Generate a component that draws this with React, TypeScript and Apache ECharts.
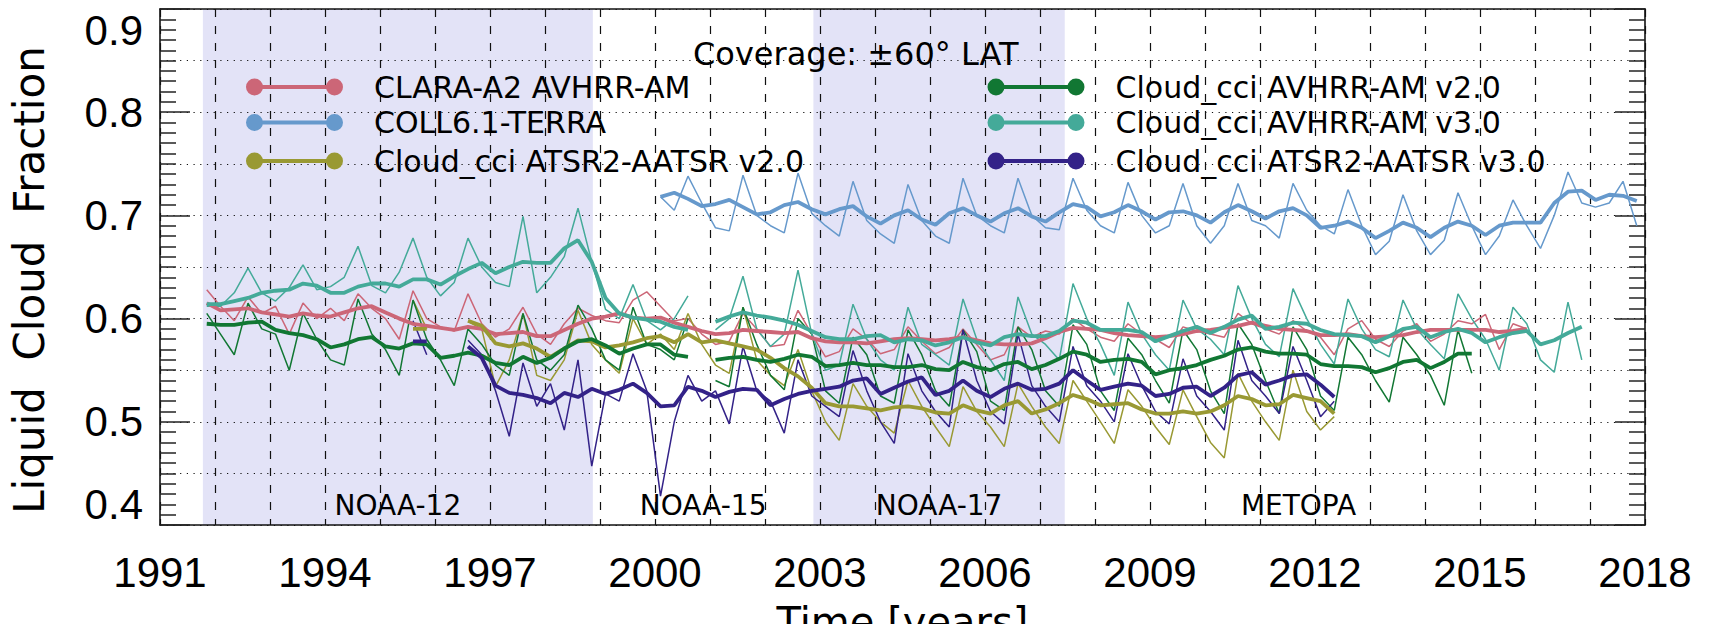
import React, { useEffect, useRef } from "react";
import * as echarts from "echarts";

// ---------- axis constants ----------
const BASE_YEAR = 1991;
const END_YEAR = 2018;
const X_TICK_STEP = 3;
const Y_MIN = 0.4;
const Y_MAX = 0.9;
const Y_MAJOR = 0.1;
const Y_GRID = 0.05;
const STEP = 0.25; // quarterly samples (years)

// ---------- data ----------
// CLARA-A2 AVHRR-AM : samples from 1991.85 every 0.25 yr
const claraStart = 1991.85;
const claraThin = [
  0.628,
  0.612, 0.598, 0.621, 0.605,
  0.612, 0.585, 0.615, 0.600,
  0.610, 0.598, 0.624, 0.610,
  0.600, 0.580, 0.627, 0.600,
  0.592, 0.588, 0.624, 0.595,
  0.582, 0.590, 0.611, 0.585,
  0.575, 0.595, 0.610, 0.603,
  0.598, 0.596, 0.618, 0.626,
  0.612, 0.598, 0.600, 0.585,
  0.575, 0.578, 0.605, 0.590,
  0.573, 0.575, 0.608, 0.585,
  0.563, 0.568, 0.590, 0.580,
  0.566, 0.570, 0.592, 0.578,
  0.566, 0.572, 0.590, 0.575,
  0.560, 0.565, 0.592, 0.582,
  0.588, 0.585, 0.600, 0.590,
  0.582, 0.578, 0.595, 0.585,
  0.580, 0.572, 0.592, 0.588,
  0.585, 0.582, 0.605, 0.595,
  0.590, 0.585, 0.598, 0.588,
  0.582, 0.565, 0.590, 0.598,
  0.580, 0.573, 0.588, 0.595,
  0.578, 0.585, 0.598, 0.595,
  0.604, 0.570, 0.595, 0.590,
];
const claraThick = [
  0.615,
  0.608, 0.609, 0.610, 0.606,
  0.604, 0.602, 0.605, 0.603,
  0.602, 0.606, 0.610, 0.612,
  0.606, 0.600, 0.595, 0.593,
  0.591, 0.589, 0.592, 0.590,
  0.585, 0.586, 0.587, 0.583,
  0.583, 0.589, 0.595, 0.600,
  0.602, 0.605, 0.601, 0.600,
  0.601, 0.596, 0.592, 0.588,
  0.585, 0.586, 0.589, 0.588,
  0.587, 0.586, 0.587, 0.581,
  0.578, 0.577, 0.577, 0.576,
  0.578, 0.580, 0.581, 0.580,
  0.579, 0.580, 0.582, 0.579,
  0.576, 0.575, 0.575, 0.576,
  0.581, 0.587, 0.591, 0.590,
  0.589, 0.586, 0.584, 0.583,
  0.582, 0.583, 0.585, 0.588,
  0.589, 0.591, 0.593, 0.596,
  0.593, 0.590, 0.589, 0.588,
  0.584, 0.584, 0.585, 0.583,
  0.582, 0.583, 0.584, 0.587,
  0.589, 0.589, 0.589, 0.589,
  0.589, 0.587, 0.588, 0.590,
];

// COLL6.1-TERRA : samples from 2000.1
const collStart = 2000.1;
const collThin = [
  0.718, 0.705, 0.738, 0.712,
  0.688, 0.685, 0.739, 0.700,
  0.690, 0.683, 0.741, 0.702,
  0.690, 0.680, 0.733, 0.695,
  0.682, 0.673, 0.730, 0.695,
  0.680, 0.673, 0.736, 0.700,
  0.690, 0.683, 0.736, 0.700,
  0.688, 0.686, 0.736, 0.705,
  0.690, 0.683, 0.732, 0.700,
  0.683, 0.690, 0.731, 0.690,
  0.673, 0.690, 0.731, 0.695,
  0.690, 0.678, 0.731, 0.705,
  0.690, 0.682, 0.725, 0.690,
  0.662, 0.675, 0.720, 0.685,
  0.662, 0.676, 0.722, 0.690,
  0.662, 0.680, 0.715, 0.690,
  0.668, 0.700, 0.742, 0.712,
  0.708, 0.712, 0.733, 0.690,
];
const collThick = [
  0.718, 0.722, 0.716, 0.709,
  0.711, 0.715, 0.708, 0.701,
  0.703, 0.710, 0.713, 0.706,
  0.701, 0.706, 0.709, 0.699,
  0.692, 0.700, 0.705, 0.696,
  0.691, 0.702, 0.707, 0.700,
  0.694, 0.702, 0.707, 0.699,
  0.694, 0.703, 0.711, 0.708,
  0.699, 0.703, 0.710, 0.704,
  0.696, 0.703, 0.704, 0.700,
  0.693, 0.703, 0.710, 0.704,
  0.697, 0.704, 0.707, 0.700,
  0.688, 0.690, 0.694, 0.688,
  0.678, 0.685, 0.693, 0.688,
  0.679, 0.688, 0.694, 0.690,
  0.681, 0.690, 0.693, 0.693,
  0.693, 0.712, 0.723, 0.724,
  0.715, 0.720, 0.719, 0.714,
];

// Cloud_cci AVHRR-AM v3.0 : samples from 1991.85
const avhrr3Start = 1991.85;
const avhrr3Thin = [
  0.612,
  0.612, 0.625, 0.649, 0.625,
  0.617, 0.630, 0.652, 0.628,
  0.631, 0.640, 0.670, 0.632,
  0.625, 0.645, 0.678, 0.640,
  0.622, 0.635, 0.678, 0.650,
  0.635, 0.631, 0.699, 0.625,
  0.640, 0.660, 0.707, 0.655,
  0.609, 0.600, 0.633, 0.598,
  0.589, 0.600, 0.622, null,
  0.589, 0.600, 0.641, 0.590,
  0.573, 0.585, 0.647, 0.585,
  0.550, 0.555, 0.614, 0.580,
  0.560, 0.550, 0.611, 0.575,
  0.565, 0.555, 0.619, 0.580,
  0.560, 0.540, 0.621, 0.585,
  0.575, 0.560, 0.634, 0.600,
  0.575, 0.545, 0.616, 0.585,
  0.565, 0.550, 0.618, 0.590,
  0.580, 0.565, 0.632, 0.600,
  0.575, 0.563, 0.629, 0.600,
  0.575, 0.556, 0.619, 0.590,
  0.570, 0.563, 0.618, 0.590,
  0.575, 0.561, 0.624, 0.600,
  0.580, 0.550, 0.611, 0.595,
  0.560, 0.548, 0.616, 0.560,
];
const avhrr3Thick = [
  0.614,
  0.614, 0.617, 0.620, 0.625,
  0.627, 0.628, 0.634, 0.632,
  0.625, 0.625, 0.631, 0.634,
  0.634, 0.631, 0.638, 0.638,
  0.633, 0.641, 0.648, 0.654,
  0.644, 0.650, 0.655, 0.654,
  0.654, 0.668, 0.676, 0.655,
  0.620, 0.605, 0.601, 0.599,
  0.597, 0.592, 0.589, null,
  0.597, 0.602, 0.606, 0.603,
  0.601, 0.598, 0.594, 0.588,
  0.582, 0.580, 0.580, 0.583,
  0.584, 0.577, 0.580, 0.579,
  0.574, 0.577, 0.582, 0.577,
  0.574, 0.582, 0.585, 0.583,
  0.583, 0.588, 0.598, 0.596,
  0.589, 0.589, 0.589, 0.587,
  0.578, 0.583, 0.588, 0.592,
  0.586, 0.592, 0.599, 0.603,
  0.590, 0.592, 0.596, 0.595,
  0.589, 0.585, 0.584, 0.583,
  0.577, 0.583, 0.590, 0.592,
  0.582, 0.587, 0.590, 0.586,
  0.577, 0.582, 0.586, 0.588,
  0.575, 0.579, 0.586, 0.592,
];

// Cloud_cci AVHRR-AM v2.0 : samples from 1991.85
const avhrr2Start = 1991.85;
const avhrr2Thin = [
  0.605,
  0.585, 0.565, 0.615, 0.590,
  0.585, 0.550, 0.605, 0.580,
  0.560, 0.555, 0.619, 0.585,
  0.570, 0.545, 0.618, 0.580,
  0.560, 0.535, 0.590, 0.575,
  0.555, 0.545, 0.605, 0.560,
  0.550, 0.565, 0.613, 0.590,
  0.560, 0.550, 0.611, 0.575,
  0.570, 0.560, 0.600, null,
  0.540, 0.534, 0.611, 0.575,
  0.545, 0.531, 0.600, 0.585,
  0.530, 0.518, 0.582, 0.565,
  0.525, 0.518, 0.589, 0.565,
  0.530, 0.515, 0.589, 0.568,
  0.520, 0.511, 0.592, 0.570,
  0.530, 0.515, 0.594, 0.575,
  0.530, 0.511, 0.581, 0.565,
  0.540, 0.518, 0.589, 0.570,
  0.530, 0.508, 0.595, 0.575,
  0.540, 0.508, 0.592, 0.570,
  0.525, 0.511, 0.582, 0.565,
  0.540, 0.519, 0.582, 0.565,
  0.545, 0.516, 0.589, 0.547,
];
const avhrr2Thick = [
  0.595,
  0.594, 0.594, 0.596, 0.597,
  0.589, 0.586, 0.584, 0.580,
  0.572, 0.575, 0.580, 0.582,
  0.573, 0.571, 0.576, 0.575,
  0.562, 0.564, 0.567, 0.564,
  0.557, 0.555, 0.563, 0.557,
  0.562, 0.571, 0.578, 0.580,
  0.574, 0.566, 0.571, 0.575,
  0.575, 0.565, 0.563, null,
  0.560, 0.562, 0.563, 0.560,
  0.558, 0.561, 0.565, 0.563,
  0.554, 0.555, 0.557, 0.555,
  0.555, 0.553, 0.553, 0.555,
  0.551, 0.550, 0.558, 0.553,
  0.550, 0.556, 0.558, 0.551,
  0.555, 0.561, 0.568, 0.565,
  0.558, 0.560, 0.561, 0.558,
  0.546, 0.550, 0.552, 0.555,
  0.560, 0.564, 0.570, 0.572,
  0.568, 0.566, 0.566, 0.565,
  0.556, 0.554, 0.554, 0.553,
  0.548, 0.552, 0.558, 0.560,
  0.552, 0.558, 0.566, 0.566,
];

// Cloud_cci ATSR2-AATSR v2.0 : samples from 1995.6
const atsr2Start = 1995.6;
const atsr2Thin = [
  0.618, 0.590,
  null, null, 0.597, 0.590,
  0.534, 0.560, 0.605, 0.545,
  0.540, 0.560, 0.608, 0.575,
  0.560, 0.547, 0.600, 0.575,
  0.585, 0.570, 0.605, 0.575,
  0.555, 0.547, 0.611, 0.560,
  0.545, 0.535, 0.570, 0.530,
  0.500, 0.482, 0.537, 0.515,
  0.500, 0.489, 0.540, 0.515,
  0.495, 0.476, 0.534, 0.510,
  0.495, 0.476, 0.537, 0.515,
  0.495, 0.479, 0.540, 0.520,
  0.500, 0.479, 0.531, 0.515,
  0.495, 0.478, 0.531, 0.505,
  0.480, 0.465, 0.547, 0.520,
  0.500, 0.482, 0.550, 0.510,
  0.492, 0.505,
];
const atsr2Thick = [
  0.590, 0.590,
  null, null, 0.598, 0.593,
  0.576, 0.573, 0.576, 0.571,
  0.563, 0.571, 0.579, 0.578,
  0.572, 0.574, 0.577, 0.581,
  0.583, 0.577, 0.585, 0.577,
  0.579, 0.576, 0.573, 0.570,
  0.562, 0.552, 0.544, 0.533,
  0.518, 0.515, 0.515, 0.513,
  0.511, 0.514, 0.515, 0.513,
  0.509, 0.508, 0.516, 0.511,
  0.508, 0.516, 0.520, 0.508,
  0.512, 0.518, 0.526, 0.522,
  0.516, 0.517, 0.518, 0.512,
  0.508, 0.508, 0.510, 0.508,
  0.510, 0.516, 0.525, 0.522,
  0.516, 0.517, 0.526, 0.523,
  0.520, 0.508,
];

// Cloud_cci ATSR2-AATSR v3.0 : samples from 1995.6
const atsr3Start = 1995.6;
const atsr3Thin = [
  0.598, 0.565,
  null, null, 0.579, 0.565,
  0.530, 0.486, 0.557, 0.515,
  0.537, 0.492, 0.560, 0.457,
  0.527, 0.520, 0.566, 0.530,
  0.428, 0.500, 0.545, 0.520,
  0.530, 0.498, 0.573, 0.530,
  0.520, 0.489, 0.560, 0.525,
  0.515, 0.505, 0.569, 0.530,
  0.500, 0.479, 0.566, 0.530,
  0.510, 0.495, 0.589, 0.540,
  0.510, 0.498, 0.585, 0.535,
  0.515, 0.500, 0.573, 0.535,
  0.520, 0.500, 0.566, 0.535,
  0.510, 0.498, 0.561, 0.525,
  0.510, 0.492, 0.579, 0.540,
  0.525, 0.508, 0.573, 0.540,
  0.505, 0.520,
];
const atsr3Thick = [
  0.578, 0.578,
  null, null, 0.573, 0.562,
  0.535, 0.528, 0.526, 0.523,
  0.518, 0.528, 0.524, 0.532,
  0.527, 0.531, 0.537, 0.528,
  0.515, 0.516, 0.534, 0.530,
  0.524, 0.529, 0.532, 0.531,
  0.516, 0.522, 0.527, 0.530,
  0.532, 0.534, 0.540, 0.542,
  0.527, 0.533, 0.539, 0.543,
  0.526, 0.530, 0.540, 0.530,
  0.524, 0.532, 0.537, 0.531,
  0.532, 0.537, 0.550, 0.540,
  0.531, 0.534, 0.537, 0.535,
  0.525, 0.527, 0.533, 0.534,
  0.525, 0.533, 0.545, 0.548,
  0.536, 0.540, 0.545, 0.546,
  0.536, 0.524,
];

// satellite periods
const periodNames = ["NOAA-12", "NOAA-15", "NOAA-17", "METOPA"];
const periodStarts = [1991.78, 1998.87, 2002.88, 2007.45];
const periodEnds = [1998.87, 2002.88, 2007.45, 2015.95];
const periodShaded = [true, false, true, false];

const datasets = [
  { name: "CLARA-A2 AVHRR-AM", color: "#CC6677", start: claraStart, thin: claraThin, thick: claraThick },
  { name: "COLL6.1-TERRA", color: "#6699CC", start: collStart, thin: collThin, thick: collThick },
  { name: "Cloud_cci ATSR2-AATSR v2.0", color: "#999933", start: atsr2Start, thin: atsr2Thin, thick: atsr2Thick },
  { name: "Cloud_cci AVHRR-AM v2.0", color: "#117733", start: avhrr2Start, thin: avhrr2Thin, thick: avhrr2Thick },
  { name: "Cloud_cci AVHRR-AM v3.0", color: "#44AA99", start: avhrr3Start, thin: avhrr3Thin, thick: avhrr3Thick },
  { name: "Cloud_cci ATSR2-AATSR v3.0", color: "#332288", start: atsr3Start, thin: atsr3Thin, thick: atsr3Thick },
];

const toPoints = (start: number, vals: (number | null)[]) =>
  vals.map((v, i) => [+(start + i * STEP - BASE_YEAR).toFixed(3), v == null ? "-" : v]);

const SANS = "'DejaVu Sans', sans-serif";
const TICKFONT = "'Liberation Sans', Arial, sans-serif";
const LEGEND_ICON =
  "path://M8.5,0A8.5,8.5,0,1,1,8.5,17A8.5,8.5,0,1,1,8.5,0ZM88.5,0A8.5,8.5,0,1,1,88.5,17A8.5,8.5,0,1,1,88.5,0ZM8.5,6.5L88.5,6.5L88.5,10.5L8.5,10.5Z";

function buildOption() {
  const dashed = { color: "#111", width: 1.2, type: [8, 9] as any };
  const dotted = { color: "#111", width: 1.2, type: [1.2, 5.5] as any };
  const frame = { color: "#111", width: 1.6 };

  const thinSeries = datasets.map((d) => ({
    type: "line",
    name: d.name,
    data: toPoints(d.start, d.thin),
    showSymbol: false,
    symbol: "none",
    connectNulls: false,
    color: d.color,
    lineStyle: { color: d.color, width: 1.5 },
    z: 2,
  }));
  const thickSeries = datasets.map((d) => ({
    type: "line",
    name: d.name,
    data: toPoints(d.start, d.thick),
    showSymbol: false,
    symbol: "none",
    connectNulls: false,
    color: d.color,
    lineStyle: { color: d.color, width: 3.8 },
    z: 3,
  }));

  const areaSeries = {
    type: "line",
    name: "periods",
    data: [],
    z: 1,
    silent: true,
    markArea: {
      silent: true,
      z: 1,
      label: {
        show: true,
        position: "insideBottom",
        distance: 6,
        fontFamily: SANS,
        fontSize: 28,
        color: "#000",
      },
      data: periodNames.map((n, i) => [
        {
          name: n,
          xAxis: periodStarts[i] - BASE_YEAR,
          itemStyle: { color: periodShaded[i] ? "#e3e3f7" : "rgba(0,0,0,0)" },
        },
        { xAxis: periodEnds[i] - BASE_YEAR },
      ]),
    },
  };

  const legendRowsTop = [67, 102.5, 141];
  const legends = datasets.map((d, i) => ({
    show: true,
    data: [d.name],
    left: i < 3 ? 241 : 982.5,
    top: legendRowsTop[i % 3],
    orient: "vertical",
    icon: LEGEND_ICON,
    itemWidth: 97,
    itemHeight: 17,
    selectedMode: false,
    textStyle: {
      fontFamily: SANS,
      fontSize: 30,
      color: "#000",
      lineHeight: 20,
      padding: [0, 0, 0, 26],
    },
  }));

  return {
    animation: false,
    backgroundColor: "#fff",
    grid: { left: 160, right: 66, top: 9, bottom: 99, show: false, outerBoundsMode: "none", containLabel: false },
    legend: legends,
    graphic: [
      {
        type: "text",
        left: 693,
        top: 38,
        style: { text: "Coverage: ±60° LAT", fontFamily: SANS, fontSize: 32, fill: "#000" },
        z: 10,
      },
    ],
    xAxis: [
      {
        type: "value",
        min: 0,
        max: END_YEAR - BASE_YEAR,
        interval: X_TICK_STEP,
        z: 1.5,
        position: "bottom",
        axisLine: { show: true, onZero: false, lineStyle: frame },
        axisTick: { show: false },
        minorTick: { show: false, splitNumber: 3 },
        splitLine: { show: true, lineStyle: dashed },
        minorSplitLine: { show: true, lineStyle: dashed },
        axisLabel: {
          formatter: (v: number) => String(Math.round(v + BASE_YEAR)),
          fontFamily: TICKFONT,
          fontSize: 42,
          color: "#000",
          margin: 26,
        },
        name: "Time [years]",
        nameLocation: "middle",
        nameGap: 77,
        nameTextStyle: { fontFamily: SANS, fontSize: 40, color: "#000" },
      },
      {
        type: "value",
        min: 0,
        max: END_YEAR - BASE_YEAR,
        interval: X_TICK_STEP,
        z: 1.5,
        position: "top",
        axisLine: { show: true, onZero: false, lineStyle: frame },
        axisTick: { show: false },
        axisLabel: { show: false },
        splitLine: { show: false },
      },
    ],
    yAxis: [
      {
        type: "value",
        min: Y_MIN,
        max: Y_MAX,
        interval: Y_MAJOR,
        position: "left",
        z: 1.5,
        axisLine: { show: true, onZero: false, lineStyle: frame },
        axisTick: { show: true, inside: true, length: 30, lineStyle: { color: "#222", width: 1.5 } },
        minorTick: { show: true, splitNumber: 10, length: 16, lineStyle: { color: "#222", width: 1.5 } },
        splitLine: { show: false },
        axisLabel: {
          formatter: (v: number) => v.toFixed(1),
          fontFamily: TICKFONT,
          fontSize: 42,
          color: "#000",
          margin: 17,
          verticalAlignMinLabel: "bottom",
          verticalAlignMaxLabel: "top",
        },
        name: "Liquid  Cloud  Fraction",
        nameLocation: "middle",
        nameGap: 110,
        nameTextStyle: { fontFamily: SANS, fontSize: 42, color: "#000", padding: [0, 26, 0, 0] },
      },
      {
        type: "value",
        min: Y_MIN,
        max: Y_MAX,
        interval: Y_MAJOR,
        position: "right",
        z: 1.5,
        axisLine: { show: true, onZero: false, lineStyle: frame },
        axisTick: { show: true, inside: true, length: 30, lineStyle: { color: "#222", width: 1.5 } },
        minorTick: { show: true, splitNumber: 10, length: 16, lineStyle: { color: "#222", width: 1.5 } },
        splitLine: { show: false },
        axisLabel: { show: false },
      },
      {
        type: "value",
        min: Y_MIN,
        max: Y_MAX,
        interval: Y_GRID,
        position: "left",
        z: 1.5,
        axisLine: { show: false },
        axisTick: { show: false },
        axisLabel: { show: false },
        splitLine: { show: true, lineStyle: dotted },
      },
    ],
    series: [areaSeries, ...thinSeries, ...thickSeries],
  };
}

export default function App() {
  const ref = useRef<HTMLDivElement>(null);
  useEffect(() => {
    if (!ref.current) return;
    const chart = echarts.init(ref.current, undefined, { renderer: "svg" });
    chart.setOption(buildOption() as any);
    return () => chart.dispose();
  }, []);
  return (
    <div
      ref={ref}
      style={{ position: "fixed", left: 0, top: 0, width: 1711, height: 624, background: "#fff" }}
    />
  );
}
